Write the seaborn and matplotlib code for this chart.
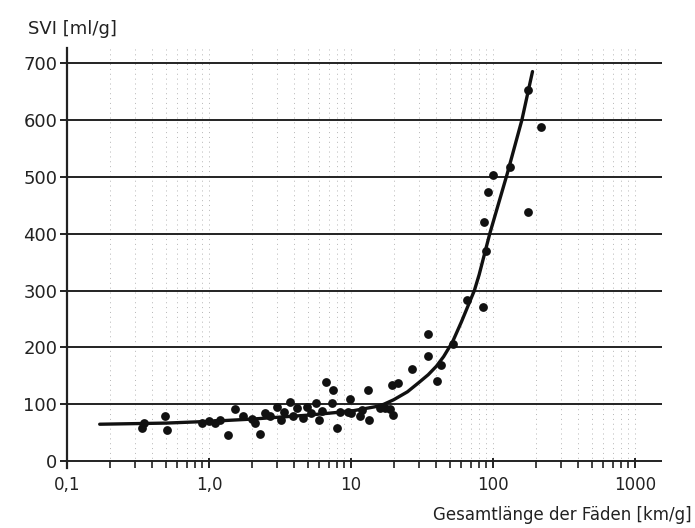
import numpy as np
import pandas as pd
import seaborn as sns
import matplotlib.pyplot as plt
from matplotlib.ticker import FixedLocator, LogLocator, NullFormatter

# === data ===
filament_len = [0.34, 0.35, 0.49, 0.51, 0.9, 1.0, 1.1, 1.2,
                1.36, 1.52, 1.74, 2.0, 2.1, 2.3, 2.5, 2.7, 3.0, 3.2, 3.4,
                3.7, 3.9, 4.2, 4.6, 4.9, 5.2, 5.7, 6.0, 6.3, 6.7, 7.3, 7.5,
                8.0, 8.4, 9.5, 9.8, 10.0, 11.6, 12.0, 13.2, 13.5, 16.0,
                17.4, 18.8, 19.7, 19.4, 21.4, 26.9, 34.9, 34.9, 40.3, 43.0,
                52.3, 65.6, 85.0, 89.0, 86.0, 92.0, 100.0, 132.0, 176.0,
                176.0, 218.0]
svi = [58, 68, 80, 55, 68, 70, 68, 72,
       46, 92, 80, 75, 68, 48, 85, 80, 95, 72, 86,
       104, 80, 93, 76, 95, 85, 103, 72, 88, 139, 103, 125,
       58, 86, 86, 110, 84, 80, 90, 125, 72, 93,
       93, 92, 82, 134, 137, 162, 223, 185, 141, 169,
       206, 283, 271, 369, 420, 473, 504, 518, 438,
       652, 587]

# hand-drawn fit curve
curve_x = [0.17, 0.5, 1.0, 2.0, 5.0, 10.0, 15.0, 17.0, 20.0, 25.0,
           30.0, 35.0, 40.0, 45.0, 52.0, 60.0, 74.0, 80.0, 95.0, 126.0,
           160.0, 190.0]
curve_y = [65, 67, 70, 74, 81, 88, 96, 100, 108, 122,
           138, 152, 167, 184, 210, 245, 300, 328, 400, 505,
           600, 685]

xtick_vals = [0.1, 1, 10, 100, 1000]
xtick_labels = ["0,1", "1,0", "10", "100", "1000"]
ytick_vals = [0, 100, 200, 300, 400, 500, 600, 700]

pts = pd.DataFrame({"len": filament_len, "svi": svi})
fit = pd.DataFrame({"len": curve_x, "svi": curve_y})

sns.set_theme(style="white")
plt.rcParams["font.family"] = ["DejaVu Sans"]

fig = plt.figure(figsize=(6.95, 5.28), dpi=100)
ax = fig.add_axes([0.0964, 0.1136, 0.856, 0.795])
ax.set_xscale("log")

# faint dotted vertical grid (log paper look)
ax.xaxis.set_minor_locator(LogLocator(base=10, subs=np.arange(2, 10)))
ax.xaxis.set_minor_formatter(NullFormatter())
ax.grid(True, axis="x", which="both", linestyle=(0, (1, 4)), color="#b5b5b5",
        linewidth=0.7)
for yv in ytick_vals:
    ax.axhline(yv, color="#222222", linewidth=1.4, zorder=1)

sns.lineplot(data=fit, x="len", y="svi", ax=ax, color="#111111", linewidth=2.4,
             sort=False, estimator=None, zorder=3)
sns.scatterplot(data=pts, x="len", y="svi", ax=ax, color="#111111", s=40,
                edgecolor="#111111", linewidth=0, zorder=4)

ax.set_xlim(0.1, 1550)
ax.set_ylim(-12, 726)
ax.xaxis.set_major_locator(FixedLocator(xtick_vals))
ax.set_xticklabels(xtick_labels)
ax.set_yticks(ytick_vals)
ax.set_xlabel("")
ax.set_ylabel("")

for s in ["top", "right", "bottom"]:
    ax.spines[s].set_visible(False)
ax.spines["left"].set_color("#222222")
ax.spines["left"].set_linewidth(1.6)

ax.tick_params(axis="x", which="major", direction="in", length=7, width=1.4,
               color="#222222", labelsize=12, pad=6, bottom=True)
ax.tick_params(axis="x", which="minor", direction="in", length=6, width=1.2,
               color="#222222", bottom=True)
ax.tick_params(axis="y", direction="out", length=5, width=1.4,
               color="#222222", labelsize=13, pad=2, left=True)
for lbl in ax.get_xticklabels() + ax.get_yticklabels():
    lbl.set_color("#222222")

fig.text(0.04, 0.935, "SVI [ml/g]", fontsize=13, color="#222222")
fig.text(0.995, 0.015, "Gesamtlänge der Fäden [km/g]", fontsize=12,
         color="#222222", ha="right")

fig.savefig("out.png", dpi=100)
